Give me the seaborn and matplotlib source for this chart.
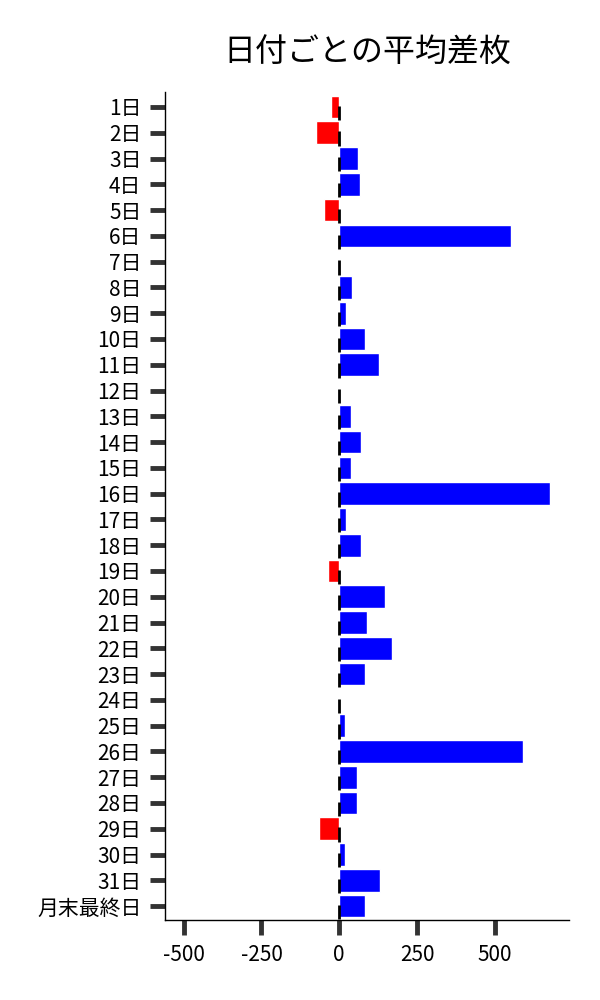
import numpy as np
import pandas as pd
import matplotlib
matplotlib.use('Agg')
import matplotlib.pyplot as plt
import seaborn as sns

# Datos
days = [f'{d}日' for d in range(1, 32)] + ['月末最終日']
avg_diff = [-26, -74, 61, 67, -48, 551, -3, 40, 21, 82,
            127, 4, 37, 69, 37, 678, 21, 69, -35, 147,
            89, 169, 82, -2, 18, 592, 58, 58, -64, 19,
            131, 82]

df = pd.DataFrame({'day': days, 'diff': avg_diff})
df['sign'] = np.where(df['diff'] < 0, 'neg', 'pos')

sns.set_style('white')
plt.rcParams['font.family'] = ['Noto Sans CJK JP', 'DejaVu Sans']
plt.rcParams['axes.unicode_minus'] = False
plt.rcParams['text.color'] = 'black'
plt.rcParams['xtick.labelcolor'] = 'black'
plt.rcParams['ytick.labelcolor'] = 'black'

fig = plt.figure(figsize=(6, 10), dpi=100)
ax = fig.add_axes([0.275, 0.08, 0.673, 0.828])

sns.barplot(data=df, x='diff', y='day', hue='sign',
            palette={'neg': '#ff0000', 'pos': '#0000ff'},
            dodge=False, width=0.88, saturation=1, legend=False, ax=ax)

# marcas negras en x=0
idx = np.arange(len(days))
ax.vlines(np.zeros(len(days)), idx - 0.05, idx + 0.5, color='black', lw=2)

ax.set_xlim(-560, 738)
ax.set_ylim(len(days) - 0.46, -0.58)
ax.set_xticks([-500, -250, 0, 250, 500])
ax.set_xlabel('')
ax.set_ylabel('')
ax.set_title('日付ごとの平均差枚', fontsize=23, pad=22, color='black')

sns.despine(ax=ax)
for s in ['left', 'bottom']:
    ax.spines[s].set_color('black')
    ax.spines[s].set_linewidth(1)
ax.tick_params(axis='both', which='major', left=True, bottom=True,
               length=11, width=3.5, color='#333333',
               labelcolor='black', labelsize=15, pad=6)

plt.savefig('out.png', dpi=100)
